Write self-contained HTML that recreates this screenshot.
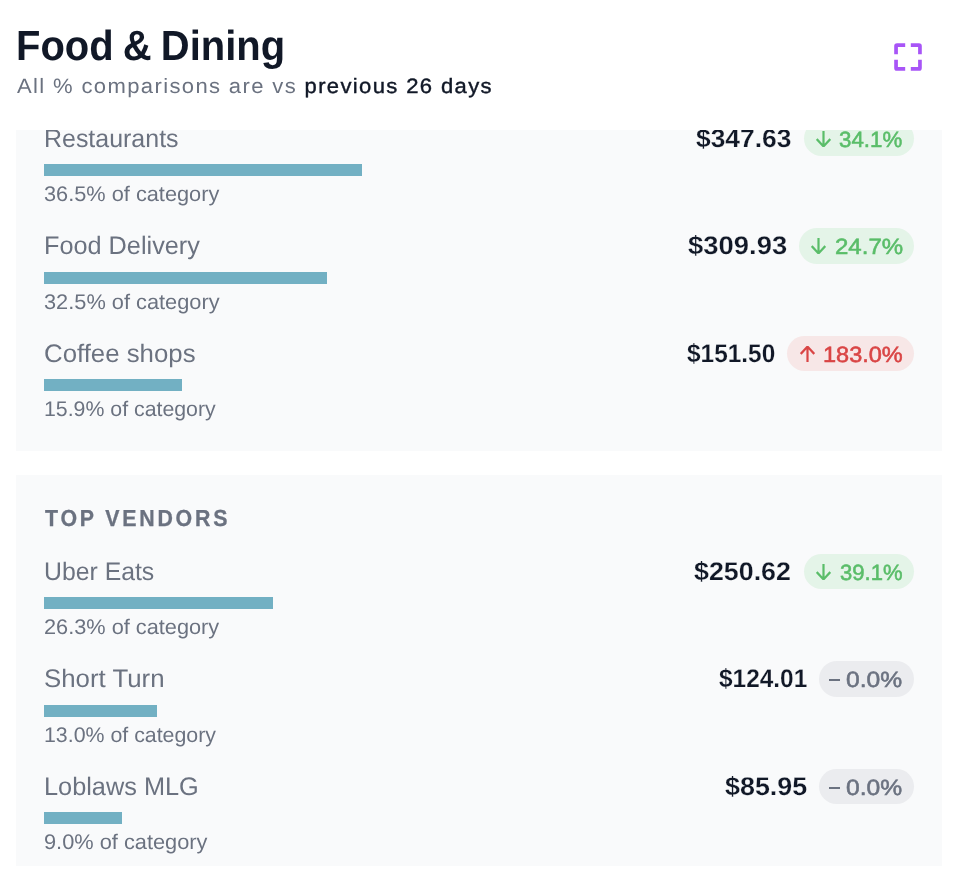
<!DOCTYPE html>
<html lang="en"><head><meta charset="utf-8"><title>Food &amp; Dining</title>
<style>
html,body{margin:0;padding:0;background:#fff}
body{width:960px;height:886px;position:relative;overflow:hidden;font-family:"Liberation Sans", Arial, sans-serif;text-rendering:geometricPrecision}
#clip{position:absolute;left:0;top:130px;width:960px;height:735.5px;overflow:hidden}
#inner{position:absolute;left:0;top:-130px;width:960px;height:886px}
.t{position:absolute;line-height:1;white-space:nowrap;transform-origin:0 0}
.panel{position:absolute;left:16px;width:926px;background:#f9fafb}
.bar{position:absolute;left:44px;height:12px;background:#72b0c3}
.badge{position:absolute;height:35px;border-radius:18px}
</style></head><body>
<div class="t" style="left:15.76px;top:25.00px;font-size:42.2px;color:#111827;font-weight:700;letter-spacing:0px;transform:scaleX(0.9468);word-spacing:-2px;">Food &amp; Dining</div>
<div class="t" style="left:16.51px;top:77.00px;font-size:20.8px;color:#6b7280;font-weight:400;letter-spacing:1.28px;transform:scaleX(1.0600);">All % comparisons are vs <span style="color:#111827;-webkit-text-stroke:0.4px #111827">previous 26 days</span></div>
<svg style="position:absolute;left:892px;top:41px" width="32" height="32" viewBox="0 0 32 32">
<path d="M4.05 13.2V5.05a1.0 1.0 0 0 1 1.0 -1.0H13.2 M18.8 4.05H26.95a1.0 1.0 0 0 1 1.0 1.0V13.2 M27.95 18.8V26.95a1.0 1.0 0 0 1 -1.0 1.0H18.8 M13.2 27.95H5.05a1.0 1.0 0 0 1 -1.0 -1.0V18.8" fill="none" stroke="#a855f7" stroke-width="3.7" stroke-linecap="butt" stroke-linejoin="miter"/></svg>
<div id="clip"><div id="inner">
<div class="panel" style="top:130px;height:320.5px"></div>
<div class="panel" style="top:475px;height:390.5px"></div>
<div class="t" style="left:43.93px;top:127.00px;font-size:25.3px;color:#6b7280;font-weight:400;letter-spacing:0px;transform:scaleX(0.9864);">Restaurants</div>
<div class="bar" style="top:164px;width:317.6px"></div>
<div class="t" style="left:44.29px;top:184.00px;font-size:21.1px;color:#6b7280;font-weight:400;letter-spacing:0px;transform:scaleX(1.0310);">36.5% of category</div>
<div class="badge" style="left:803.5px;top:121px;width:110.5px;height:35px;background:#e4f4e8"></div>
<div class="t" style="left:696.34px;top:127.00px;font-size:25.6px;color:#111827;font-weight:700;letter-spacing:0px;transform:scaleX(1.0308);-webkit-text-stroke:0.2px #f9fafb;">$347.63</div>
<svg style="position:absolute;left:815.8px;top:131.0px" width="15" height="16" viewBox="0 0 15 16"><path d="M7.5 0V15.6M0.75 8.1L7.5 15.4L14.25 8.1" fill="none" stroke="#5abd69" stroke-width="2.2" stroke-linecap="butt" stroke-linejoin="miter"/></svg>
<div class="t" style="left:839.37px;top:129.00px;font-size:22.0px;color:#5abd69;font-weight:400;letter-spacing:0px;transform:scaleX(1.0140);-webkit-text-stroke:0.55px #5abd69;">34.1%</div>
<div class="t" style="left:43.91px;top:234.00px;font-size:25.3px;color:#6b7280;font-weight:400;letter-spacing:0px;transform:scaleX(0.9988);">Food Delivery</div>
<div class="bar" style="top:272px;width:282.8px"></div>
<div class="t" style="left:44.29px;top:292.00px;font-size:21.1px;color:#6b7280;font-weight:400;letter-spacing:0px;transform:scaleX(1.0325);">32.5% of category</div>
<div class="badge" style="left:799px;top:228px;width:115px;height:36px;background:#e4f4e8"></div>
<div class="t" style="left:687.61px;top:234.00px;font-size:25.6px;color:#111827;font-weight:700;letter-spacing:0px;transform:scaleX(1.0716);-webkit-text-stroke:0.2px #f9fafb;">$309.93</div>
<svg style="position:absolute;left:811px;top:238.0px" width="15" height="16" viewBox="0 0 15 16"><path d="M7.5 0V15.6M0.75 8.1L7.5 15.4L14.25 8.1" fill="none" stroke="#5abd69" stroke-width="2.2" stroke-linecap="butt" stroke-linejoin="miter"/></svg>
<div class="t" style="left:834.54px;top:236.00px;font-size:22.0px;color:#5abd69;font-weight:400;letter-spacing:0px;transform:scaleX(1.0922);-webkit-text-stroke:0.55px #5abd69;">24.7%</div>
<div class="t" style="left:43.94px;top:342.00px;font-size:25.3px;color:#6b7280;font-weight:400;letter-spacing:0px;transform:scaleX(1.0197);">Coffee shops</div>
<div class="bar" style="top:379px;width:138.3px"></div>
<div class="t" style="left:43.67px;top:399.00px;font-size:21.1px;color:#6b7280;font-weight:400;letter-spacing:0px;transform:scaleX(1.0096);">15.9% of category</div>
<div class="badge" style="left:787px;top:336px;width:127px;height:35px;background:#f7e7e7"></div>
<div class="t" style="left:687.39px;top:342.00px;font-size:25.6px;color:#111827;font-weight:700;letter-spacing:0px;transform:scaleX(0.9542);-webkit-text-stroke:0.2px #f9fafb;">$151.50</div>
<svg style="position:absolute;left:800px;top:346.0px" width="15" height="16" viewBox="0 0 15 16"><path d="M7.5 16V0.4M0.75 7.9L7.5 0.6L14.25 7.9" fill="none" stroke="#d94545" stroke-width="2.2" stroke-linecap="butt" stroke-linejoin="miter"/></svg>
<div class="t" style="left:823.01px;top:344.00px;font-size:22.0px;color:#d94545;font-weight:400;letter-spacing:0px;transform:scaleX(1.0693);-webkit-text-stroke:0.55px #d94545;">183.0%</div>
<div class="t" style="left:44.79px;top:507.00px;font-size:23.2px;color:#6b7280;font-weight:700;letter-spacing:3.03px;transform:scaleX(0.9200);-webkit-text-stroke:0.3px #6b7280;">TOP VENDORS</div>
<div class="t" style="left:44.04px;top:560.00px;font-size:25.3px;color:#6b7280;font-weight:400;letter-spacing:0px;transform:scaleX(0.9803);">Uber Eats</div>
<div class="bar" style="top:597px;width:228.8px"></div>
<div class="t" style="left:44.39px;top:617.00px;font-size:21.1px;color:#6b7280;font-weight:400;letter-spacing:0px;transform:scaleX(1.0304);">26.3% of category</div>
<div class="badge" style="left:804.25px;top:554px;width:109.75px;height:35px;background:#e4f4e8"></div>
<div class="t" style="left:694.33px;top:560.00px;font-size:25.6px;color:#111827;font-weight:700;letter-spacing:0px;transform:scaleX(1.0475);-webkit-text-stroke:0.2px #f9fafb;">$250.62</div>
<svg style="position:absolute;left:816.2px;top:564.0px" width="15" height="16" viewBox="0 0 15 16"><path d="M7.5 0V15.6M0.75 8.1L7.5 15.4L14.25 8.1" fill="none" stroke="#5abd69" stroke-width="2.2" stroke-linecap="butt" stroke-linejoin="miter"/></svg>
<div class="t" style="left:840.13px;top:562.00px;font-size:22.0px;color:#5abd69;font-weight:400;letter-spacing:0px;transform:scaleX(1.0018);-webkit-text-stroke:0.55px #5abd69;">39.1%</div>
<div class="t" style="left:43.69px;top:667.00px;font-size:25.3px;color:#6b7280;font-weight:400;letter-spacing:0px;transform:scaleX(1.0206);">Short Turn</div>
<div class="bar" style="top:705px;width:113.1px"></div>
<div class="t" style="left:43.87px;top:725.00px;font-size:21.1px;color:#6b7280;font-weight:400;letter-spacing:0px;transform:scaleX(1.0114);">13.0% of category</div>
<div class="badge" style="left:819.25px;top:661px;width:94.75px;height:36px;background:#ebecef"></div>
<div class="t" style="left:719.39px;top:667.00px;font-size:25.6px;color:#111827;font-weight:700;letter-spacing:0px;transform:scaleX(0.9542);-webkit-text-stroke:0.2px #f9fafb;">$124.01</div>
<div style="position:absolute;left:829.25px;top:678.6px;width:10.5px;height:2.4px;background:#6b7280"></div>
<div class="t" style="left:846.40px;top:669.00px;font-size:22.0px;color:#6b7280;font-weight:400;letter-spacing:0px;transform:scaleX(1.1203);-webkit-text-stroke:0.55px #6b7280;">0.0%</div>
<div class="t" style="left:43.90px;top:775.00px;font-size:25.3px;color:#6b7280;font-weight:400;letter-spacing:0px;transform:scaleX(1.0006);">Loblaws MLG</div>
<div class="bar" style="top:812px;width:78.3px"></div>
<div class="t" style="left:44.44px;top:832.00px;font-size:21.1px;color:#6b7280;font-weight:400;letter-spacing:0px;transform:scaleX(1.0325);">9.0% of category</div>
<div class="badge" style="left:819.25px;top:769px;width:94.75px;height:35px;background:#ebecef"></div>
<div class="t" style="left:725.07px;top:775.00px;font-size:25.6px;color:#111827;font-weight:700;letter-spacing:0px;transform:scaleX(1.0496);-webkit-text-stroke:0.2px #f9fafb;">$85.95</div>
<div style="position:absolute;left:829.25px;top:786.6px;width:10.5px;height:2.4px;background:#6b7280"></div>
<div class="t" style="left:846.40px;top:777.00px;font-size:22.0px;color:#6b7280;font-weight:400;letter-spacing:0px;transform:scaleX(1.1203);-webkit-text-stroke:0.55px #6b7280;">0.0%</div>
</div></div>
</body></html>
